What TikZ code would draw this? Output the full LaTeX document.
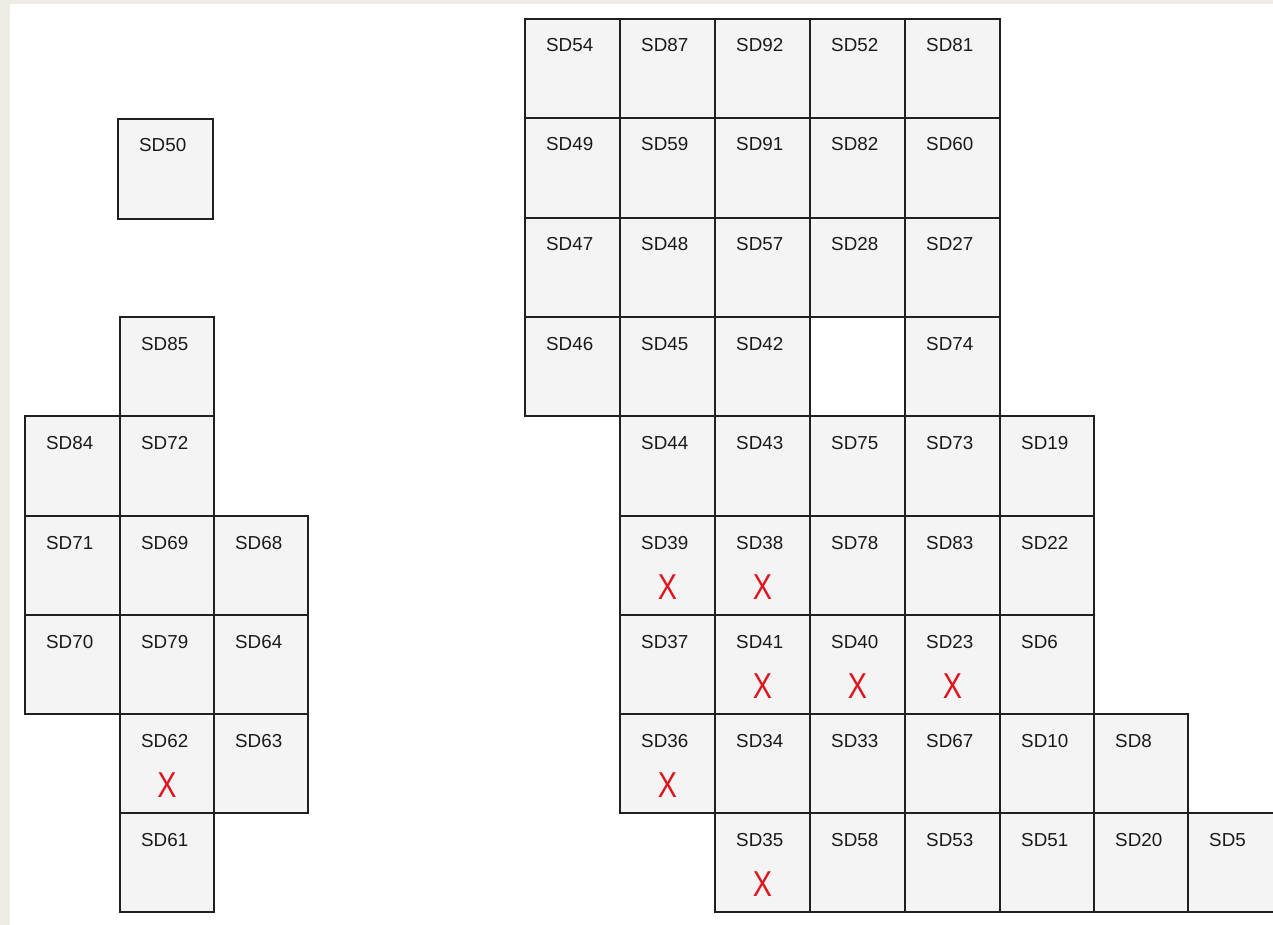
\documentclass[tikz,border=0pt]{standalone}
\usepackage{graphicx}
\usepackage{fontspec}
\setmainfont{Liberation Sans}
\definecolor{bgstrip}{HTML}{EEEBE4}
\definecolor{cellfill}{HTML}{F4F4F4}
\definecolor{cellline}{HTML}{202020}
\definecolor{celltxt}{HTML}{1A1A1A}
\definecolor{xred}{HTML}{E0141E}
\pgfdeclarelayer{bg}
\pgfdeclarelayer{fills}
\pgfsetlayers{bg,fills,main}
% cell: name, x1, y1, x2, y2, label, fill colour
\newcommand\gcell[7]{%
  \node[cellbox, minimum width={#4-#2}, minimum height={#5-#3}]
    (#1) at ({(#2+#4)/2},{(#3+#5)/2}) {};
  \begin{pgfonlayer}{fills}\fill[#7] (#1.north west) rectangle (#1.south east);\end{pgfonlayer}
  \node[celltext] (#1t) at ([xshift=21pt,yshift=-33pt]#1.north west) {#6};}
\newcommand\xm[1]{%
  \node[xtext] (#1x) at ([yshift=-71pt]#1.north) {\scalebox{0.8}[1]{X}};}
\begin{document}
\begin{tikzpicture}[x=1pt,y=-1pt,
  cellbox/.style={draw=cellline, line width=2pt, inner sep=0pt,
    outer sep=0pt, anchor=center},
  celltext/.style={text=celltxt, font=\fontsize{18.8}{20}\selectfont,
    inner sep=0pt, anchor=base west},
  xtext/.style={text=xred, font=\fontsize{36}{38}\selectfont,
    inner sep=0pt, anchor=center}]
\useasboundingbox (0,0) rectangle (1273,925);
\clip (0,0) rectangle (1273,925);
\begin{pgfonlayer}{bg}
\fill[white] (0,0) rectangle (1273,925);
\fill[bgstrip] (0,0) rectangle (1273,4);
\fill[bgstrip] (0,0) rectangle (10,925);
\end{pgfonlayer}

% ---- left group ----
\gcell{sd50}{118}{119}{213}{219}{SD50}{cellfill}

\gcell{sd85}{120}{317}{214}{416}{SD85}{cellfill}
\gcell{sd84}{25}{416}{120}{516}{SD84}{cellfill}
\gcell{sd72}{120}{416}{214}{516}{SD72}{cellfill}
\gcell{sd71}{25}{516}{120}{615}{SD71}{cellfill}
\gcell{sd69}{120}{516}{214}{615}{SD69}{cellfill}
\gcell{sd68}{214}{516}{308}{615}{SD68}{cellfill}
\gcell{sd70}{25}{615}{120}{714}{SD70}{cellfill}
\gcell{sd79}{120}{615}{214}{714}{SD79}{cellfill}
\gcell{sd64}{214}{615}{308}{714}{SD64}{cellfill}
\gcell{sd62}{120}{714}{214}{813}{SD62}{cellfill}\xm{sd62}
\gcell{sd63}{214}{714}{308}{813}{SD63}{cellfill}
\gcell{sd61}{120}{813}{214}{912}{SD61}{cellfill}

% ---- right group ----
\gcell{sd54}{525}{19}{620}{118}{SD54}{cellfill}
\gcell{sd87}{620}{19}{715}{118}{SD87}{cellfill}
\gcell{sd92}{715}{19}{810}{118}{SD92}{cellfill}
\gcell{sd52}{810}{19}{905}{118}{SD52}{cellfill}
\gcell{sd81}{905}{19}{1000}{118}{SD81}{cellfill}

\gcell{sd49}{525}{118}{620}{218}{SD49}{cellfill}
\gcell{sd59}{620}{118}{715}{218}{SD59}{cellfill}
\gcell{sd91}{715}{118}{810}{218}{SD91}{cellfill}
\gcell{sd82}{810}{118}{905}{218}{SD82}{cellfill}
\gcell{sd60}{905}{118}{1000}{218}{SD60}{cellfill}

\gcell{sd47}{525}{218}{620}{317}{SD47}{cellfill}
\gcell{sd48}{620}{218}{715}{317}{SD48}{cellfill}
\gcell{sd57}{715}{218}{810}{317}{SD57}{cellfill}
\gcell{sd28}{810}{218}{905}{317}{SD28}{cellfill}
\gcell{sd27}{905}{218}{1000}{317}{SD27}{cellfill}

\gcell{sd46}{525}{317}{620}{416}{SD46}{cellfill}
\gcell{sd45}{620}{317}{715}{416}{SD45}{cellfill}
\gcell{sd42}{715}{317}{810}{416}{SD42}{cellfill}
\gcell{blank}{810}{317}{905}{416}{}{white}
\gcell{sd74}{905}{317}{1000}{416}{SD74}{cellfill}

\gcell{sd44}{620}{416}{715}{516}{SD44}{cellfill}
\gcell{sd43}{715}{416}{810}{516}{SD43}{cellfill}
\gcell{sd75}{810}{416}{905}{516}{SD75}{cellfill}
\gcell{sd73}{905}{416}{1000}{516}{SD73}{cellfill}
\gcell{sd19}{1000}{416}{1094}{516}{SD19}{cellfill}

\gcell{sd39}{620}{516}{715}{615}{SD39}{cellfill}\xm{sd39}
\gcell{sd38}{715}{516}{810}{615}{SD38}{cellfill}\xm{sd38}
\gcell{sd78}{810}{516}{905}{615}{SD78}{cellfill}
\gcell{sd83}{905}{516}{1000}{615}{SD83}{cellfill}
\gcell{sd22}{1000}{516}{1094}{615}{SD22}{cellfill}

\gcell{sd37}{620}{615}{715}{714}{SD37}{cellfill}
\gcell{sd41}{715}{615}{810}{714}{SD41}{cellfill}\xm{sd41}
\gcell{sd40}{810}{615}{905}{714}{SD40}{cellfill}\xm{sd40}
\gcell{sd23}{905}{615}{1000}{714}{SD23}{cellfill}\xm{sd23}
\gcell{sd6}{1000}{615}{1094}{714}{SD6}{cellfill}

\gcell{sd36}{620}{714}{715}{813}{SD36}{cellfill}\xm{sd36}
\gcell{sd34}{715}{714}{810}{813}{SD34}{cellfill}
\gcell{sd33}{810}{714}{905}{813}{SD33}{cellfill}
\gcell{sd67}{905}{714}{1000}{813}{SD67}{cellfill}
\gcell{sd10}{1000}{714}{1094}{813}{SD10}{cellfill}
\gcell{sd8}{1094}{714}{1188}{813}{SD8}{cellfill}

\gcell{sd35}{715}{813}{810}{912}{SD35}{cellfill}\xm{sd35}
\gcell{sd58}{810}{813}{905}{912}{SD58}{cellfill}
\gcell{sd53}{905}{813}{1000}{912}{SD53}{cellfill}
\gcell{sd51}{1000}{813}{1094}{912}{SD51}{cellfill}
\gcell{sd20}{1094}{813}{1188}{912}{SD20}{cellfill}
\gcell{sd5}{1188}{813}{1283}{912}{SD5}{cellfill}
\end{tikzpicture}
\end{document}
